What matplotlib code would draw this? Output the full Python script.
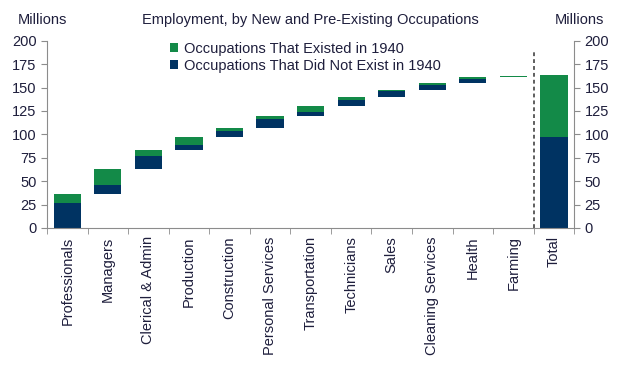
import numpy as np
import matplotlib
matplotlib.use('Agg')
import matplotlib.pyplot as plt

plt.rcParams['font.family'] = ['Liberation Sans', 'DejaVu Sans']

# categories and contributions (millions)
categories = ['Professionals', 'Managers', 'Clerical & Admin', 'Production', 'Construction',
              'Personal Services', 'Transportation', 'Technicians', 'Sales',
              'Cleaning Services', 'Health', 'Farming']
new_occ = [26.4, 10.0, 14.0, 5.7, 7.0, 9.0, 4.3, 6.4, 6.4, 5.3, 4.3, 0.3]
existed_occ = [9.6, 17.0, 6.4, 7.5, 3.6, 3.6, 6.4, 2.5, 1.8, 1.8, 1.8, 1.0]
total_new = 96.6
total_existed = 66.4

green = '#138a48'
navy = '#003362'
txt = '#1e1e3c'
grey = '#8c8c8c'

fig = plt.figure(figsize=(6.24, 3.70), dpi=100)
ax = fig.add_axes([0.0753, 0.384, 0.845, 0.506])

n = len(categories)
x = np.arange(n)
new_occ = np.array(new_occ)
existed_occ = np.array(existed_occ)
tops = np.cumsum(new_occ + existed_occ)
bottoms = tops - new_occ - existed_occ

w = 0.67
ax.bar(x, new_occ, w, bottom=bottoms, color=navy, label='Occupations That Did Not Exist in 1940')
ax.bar(x, existed_occ, w, bottom=bottoms + new_occ, color=green, label='Occupations That Existed in 1940')
ax.bar(n, total_new, w, color=navy)
ax.bar(n, total_existed, w, bottom=total_new, color=green)

# separator before total
ax.plot([n - 0.5, n - 0.5], [0, 190], ls=(0, (2.5, 2)), color='#333333', lw=1.1)

ax.set_xlim(-0.5, n + 0.5)
ax.set_ylim(0, 200)
ax.set_yticks(np.arange(0, 201, 25))
ax.set_xticks(np.arange(n + 1))
ax.set_xticklabels(categories + ['Total'], rotation=90, fontsize=10.5, color=txt)
ax.set_xticks(np.arange(-0.5, n + 1, 1), minor=True)
ax.tick_params(axis='x', which='major', length=0, pad=6)
ax.tick_params(axis='x', which='minor', length=4, color=grey, direction='out')
ax.tick_params(axis='y', which='major', length=4, color=grey, labelsize=10.5, labelcolor=txt,
               left=True, right=True, labelleft=True, labelright=True)

ax.spines['top'].set_visible(False)
for s in ['left', 'right', 'bottom']:
    ax.spines[s].set_color(grey)

handles, labels = ax.get_legend_handles_labels()
leg = ax.legend(handles[::-1], labels[::-1], loc='upper left', bbox_to_anchor=(0.216, 1.04),
                frameon=False, fontsize=10.5, handlelength=0.6, handleheight=0.6,
                handletextpad=0.4, labelspacing=0.2, borderaxespad=0.2)
for t in leg.get_texts():
    t.set_color(txt)

fig.text(0.068, 0.945, 'Millions', ha='center', va='center', fontsize=10.5, color=txt)
fig.text(0.928, 0.945, 'Millions', ha='center', va='center', fontsize=10.5, color=txt)
fig.text(0.497, 0.945, 'Employment, by New and Pre-Existing Occupations', ha='center', va='center',
         fontsize=10.5, color=txt)

fig.savefig('out.png', dpi=100)
